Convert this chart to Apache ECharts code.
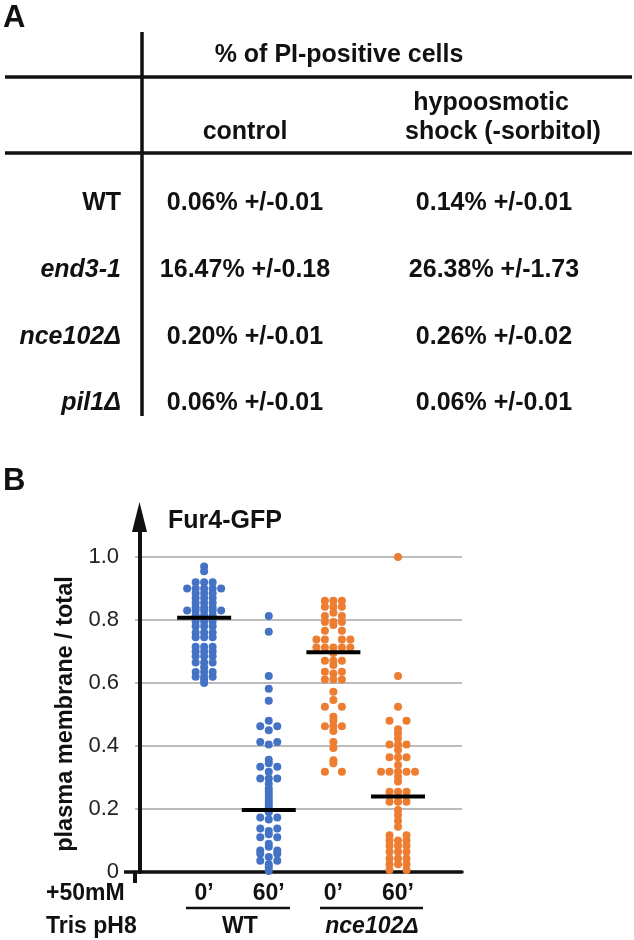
<!DOCTYPE html>
<html><head><meta charset="utf-8">
<script src="https://cdn.jsdelivr.net/npm/echarts@6/dist/echarts.min.js"></script>
<style>html,body{margin:0;padding:0;background:#fff}#c{width:634px;height:940px}</style>
</head><body><div id="c"></div>
<script>
// ---------- Panel A: table data ----------
const tableTitle = '% of PI-positive cells';
const colHeaders = ['control', 'hypoosmotic\nshock (-sorbitol)'];
const strains = ['WT', 'end3-1', 'nce102Δ', 'pil1Δ'];
const strainItalic = [false, true, true, true];
const controlPct = ['0.06% +/-0.01', '16.47% +/-0.18', '0.20% +/-0.01', '0.06% +/-0.01'];
const shockPct = ['0.14% +/-0.01', '26.38% +/-1.73', '0.26% +/-0.02', '0.06% +/-0.01'];

// ---------- Panel B: Fur4-GFP plasma membrane / total ----------
const yAxisTitle = 'plasma membrane / total';
const timeLabels = ['0’', '60’', '0’', '60’'];
const groupNames = ['WT', 'nce102Δ'];
const yTicks = [0, 0.2, 0.4, 0.6, 0.8, 1.0];
const wt0 = [0.97, 0.955,
  0.92, 0.92, 0.92, 0.90, 0.90, 0.90, 0.90, 0.90, 0.885, 0.885, 0.885,
  0.87, 0.87, 0.87, 0.855, 0.855, 0.855, 0.84, 0.84, 0.84,
  0.83, 0.83, 0.83, 0.83, 0.83, 0.815, 0.815, 0.815, 0.795, 0.795, 0.795,
  0.78, 0.78, 0.78, 0.76, 0.76, 0.76, 0.745, 0.745, 0.745,
  0.715, 0.715, 0.715, 0.70, 0.70, 0.70, 0.685, 0.685, 0.685,
  0.665, 0.665, 0.665, 0.65, 0.635, 0.635, 0.635, 0.62, 0.62, 0.62, 0.61, 0.60];
const wt60 = [0.813, 0.763, 0.622, 0.582, 0.544, 0.48, 0.463, 0.463, 0.45,
  0.413, 0.413, 0.405, 0.356, 0.345, 0.334, 0.334, 0.318, 0.297, 0.297, 0.297,
  0.28, 0.265, 0.255, 0.245, 0.235, 0.225, 0.215, 0.205, 0.19,
  0.173, 0.173, 0.167, 0.138, 0.138, 0.13, 0.12, 0.11, 0.11, 0.09, 0.08,
  0.068, 0.068, 0.058, 0.058, 0.048, 0.036, 0.036, 0.025, 0.015, 0.003];
const nce0 = [0.861, 0.861, 0.861, 0.842, 0.842, 0.842, 0.823, 0.813, 0.813,
  0.794, 0.794, 0.794, 0.784, 0.766, 0.766, 0.738, 0.738, 0.738, 0.738,
  0.713, 0.713, 0.713, 0.713, 0.713, 0.695, 0.671, 0.671, 0.671, 0.657,
  0.636, 0.636, 0.63, 0.611, 0.611, 0.611, 0.572, 0.546, 0.525, 0.525,
  0.493, 0.48, 0.463, 0.463, 0.463, 0.448, 0.413, 0.394, 0.355, 0.345, 0.318, 0.318];
const nce60 = [1.0, 0.622, 0.525, 0.48, 0.48, 0.453, 0.44, 0.424,
  0.405, 0.405, 0.405, 0.387, 0.364, 0.364, 0.364, 0.34,
  0.318, 0.318, 0.318, 0.318, 0.318, 0.302, 0.287, 0.255, 0.255, 0.255, 0.239,
  0.223, 0.223, 0.223, 0.197, 0.181, 0.163, 0.144, 0.117, 0.117,
  0.10, 0.10, 0.10, 0.083, 0.083, 0.083, 0.064, 0.064, 0.064,
  0.043, 0.043, 0.043, 0.025, 0.025, 0.025, 0.006, 0.006];
const means = [0.807, 0.197, 0.698, 0.24];

// ---------- helpers ----------
const FONT = "'Liberation Sans', Arial, Helvetica, sans-serif";
const BLUE = '#4472C4', ORANGE = '#ED7D31';
const DOT_STEP = 8.5;

function swarm(vals, pos) {
  const bins = new Map();
  vals.forEach(v => { const k = v.toFixed(3); if (!bins.has(k)) bins.set(k, []); bins.get(k).push(v); });
  const out = [];
  bins.forEach(arr => {
    const n = arr.length;
    arr.forEach((v, i) => {
      let o;
      if (n % 2) o = (i - (n - 1) / 2) * DOT_STEP;
      else { const k = i - n / 2; o = (k >= 0 ? k + 1 : k) * DOT_STEP; }
      out.push({ value: [pos, v], symbolOffset: [o, 0] });
    });
  });
  return out;
}
function txt(text, x, y, size, opts) {
  opts = opts || {};
  return { type: 'text', silent: true, x: opts.x || 0, y: opts.y || 0, rotation: opts.rotation || 0,
    style: {
    text: text, x: x, y: y, fill: opts.color || '#111',
    font: (opts.italic ? 'italic ' : '') + (opts.weight || 'bold') + ' ' + size + 'px ' + FONT,
    align: opts.align || 'center', verticalAlign: 'middle' }
  };
}
function line(x1, y1, x2, y2, w) {
  return { type: 'line', silent: true, shape: { x1, y1, x2, y2 }, style: { stroke: '#111', lineWidth: w } };
}

// ---------- graphics for table & annotations ----------
const T = 25;
const graphics = [];
graphics.push(txt('A', 3, 18, 31, { align: 'left' }));
graphics.push(txt('B', 3, 481, 31, { align: 'left' }));
graphics.push(txt(tableTitle, 339, 55, T));
graphics.push(line(5, 77, 632, 77, 3.5));
graphics.push(line(5, 153, 632, 153, 3.5));
graphics.push(line(142, 32, 142, 416, 3.5));
graphics.push(txt(colHeaders[0], 245, 132, T));
const hdr2 = colHeaders[1].split('\n');
graphics.push(txt(hdr2[0], 491, 103, T));
graphics.push(txt(hdr2[1], 503, 132, T));
const rowY = [203, 270, 337, 403];
strains.forEach((s, i) => {
  graphics.push(txt(s, 121, rowY[i], T, { align: 'right', italic: strainItalic[i] }));
  graphics.push(txt(controlPct[i], 245, rowY[i], T));
  graphics.push(txt(shockPct[i], 494, rowY[i], T));
});
// y axis title (rotated)
graphics.push(txt(yAxisTitle, 0, 0, 23.5, { x: 66, y: 714, rotation: Math.PI / 2 }));
// x-axis annotation below plot
graphics.push(txt('+50mM', 46, 894, 23, { align: 'left' }));
graphics.push(txt('Tris pH8', 46, 927, 23, { align: 'left' }));
graphics.push(line(186, 908, 290, 908, 2.5));
graphics.push(line(320, 908, 423, 908, 2.5));
graphics.push(txt(groupNames[0], 240, 927, 23));
graphics.push(txt(groupNames[1], 372, 927, 23, { italic: true }));

const chart = echarts.init(document.getElementById('c'), null, { renderer: 'canvas' });
const option = {
  animation: false,
  backgroundColor: '#fff',
  title: { text: 'Fur4-GFP', left: 163, top: 504,
    textStyle: { fontFamily: FONT, fontWeight: 'bold', fontSize: 25, color: '#111' } },
  grid: { left: 135, right: 172, top: 517, bottom: 68, containLabel: false },
  xAxis: {
    type: 'value', min: -0.07, max: 4.99,
    axisLine: { onZero: true, lineStyle: { color: '#111', width: 3.5 } },
    axisTick: { show: false }, splitLine: { show: false },
    axisLabel: { customValues: [1, 2, 3, 4], formatter: v => timeLabels[Math.round(v) - 1] || '',
      fontFamily: FONT, fontWeight: 'bold', fontSize: 23, color: '#111', margin: 10 }
  },
  yAxis: {
    type: 'value', min: 0, max: 1.127, interval: 0.2,
    axisLine: { show: true, symbol: ['none', 'triangle'], symbolSize: [15, 30],
      lineStyle: { color: '#111', width: 4 } },
    axisTick: { show: false },
    axisLabel: { customValues: yTicks,
      formatter: v => (v > 1.01 ? '' : (v === 0 ? '0' : v.toFixed(1))),
      fontFamily: FONT, fontSize: 22, color: '#222', margin: 16 },
    splitLine: { show: true, showMaxLine: false,
      lineStyle: { color: ['#a6a6a6', '#a6a6a6', '#a6a6a6', '#a6a6a6', '#a6a6a6', '#a6a6a6', 'rgba(0,0,0,0)'], width: 1.5 } }
  },
  series: [
    { type: 'scatter', symbolSize: 8, itemStyle: { color: BLUE, opacity: 1 }, z: 3, data: swarm(wt0, 1) },
    { type: 'scatter', symbolSize: 8, itemStyle: { color: BLUE, opacity: 1 }, z: 3, data: swarm(wt60, 2) },
    { type: 'scatter', symbolSize: 8, itemStyle: { color: ORANGE, opacity: 1 }, z: 3, data: swarm(nce0, 3) },
    { type: 'scatter', symbolSize: 8, itemStyle: { color: ORANGE, opacity: 1 }, z: 3, data: swarm(nce60, 4) },
    { type: 'scatter', symbol: 'rect', symbolSize: [54, 4], itemStyle: { color: '#000', opacity: 1 }, z: 5,
      data: means.map((m, i) => [i + 1, m]) }
  ],
  graphic: graphics
};
chart.setOption(option);
// extend the zero line left of the y axis and the y axis a little below zero
const p0 = chart.convertToPixel({ gridIndex: 0 }, [-0.07, 0]);
graphics.push(line(p0[0] - 11, p0[1], p0[0], p0[1], 3.5));
graphics.push(line(p0[0], p0[1], p0[0], p0[1] + 11, 4));
chart.setOption({ graphic: graphics });
</script></body></html>
